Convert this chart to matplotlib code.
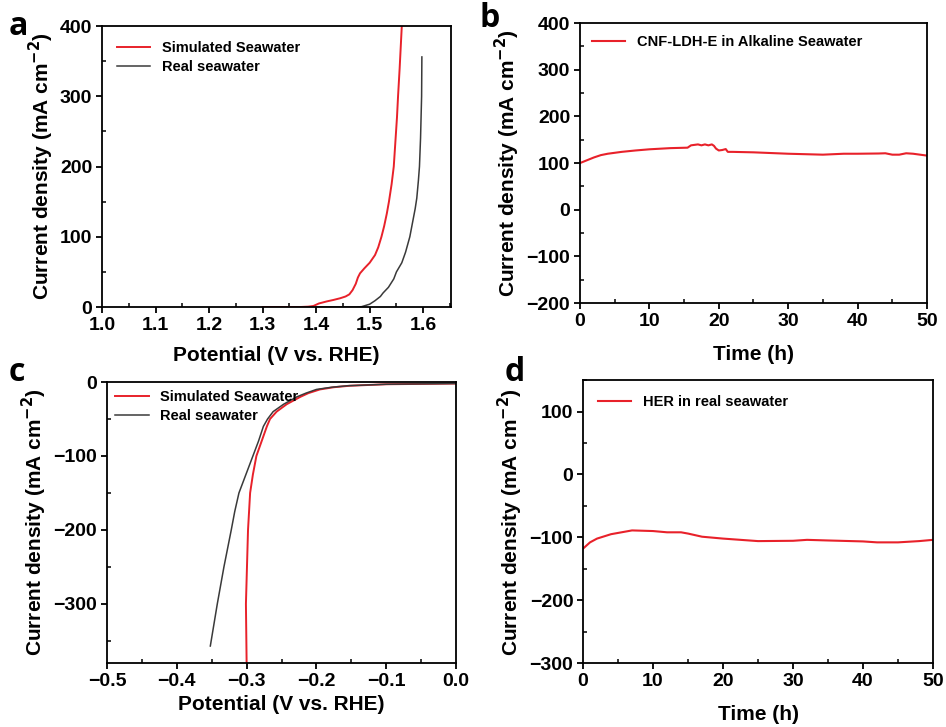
import matplotlib
matplotlib.use('Agg')
import matplotlib.pyplot as plt
from matplotlib.ticker import MultipleLocator

# Datos
# (a) OER: potencial (V vs. RHE) y densidad de corriente
a_sim_x = [1.30, 1.37, 1.385, 1.395, 1.405, 1.42, 1.432, 1.445, 1.455, 1.462, 1.468,
           1.474, 1.478, 1.482, 1.49, 1.50, 1.51, 1.516, 1.522, 1.527, 1.532, 1.536,
           1.541, 1.545, 1.548, 1.551, 1.553, 1.556, 1.560]
a_sim_y = [0, 0, 0.5, 1.5, 5, 8, 10, 12.5, 15, 18, 24,
           33, 42, 48, 55, 63, 74, 85, 100, 115, 133, 150,
           175, 200, 235, 270, 300, 340, 400]
a_real_x = [1.40, 1.475, 1.485, 1.50, 1.51, 1.52, 1.525, 1.535, 1.545, 1.55, 1.56,
            1.567, 1.575, 1.58, 1.585, 1.588, 1.591, 1.593, 1.595, 1.596, 1.597, 1.5975]
a_real_y = [0, 0, 0.5, 4, 9, 15, 20, 28, 40, 50, 63,
            78, 100, 120, 140, 155, 180, 200, 240, 270, 300, 356]

# (b) estabilidad en agua de mar alcalina
b_t = [0, 1, 2, 3, 4, 6, 8, 10, 13, 15.5, 16, 16.5, 17, 17.5, 18, 18.5, 19, 19.3,
       19.6, 20, 20.5, 21, 21.3, 22, 25, 30, 35, 38, 40, 43, 44, 45, 46, 47, 48, 50]
b_j = [100, 106, 112, 117, 120, 124, 127, 129.5, 132, 133, 138, 139, 140, 138, 140,
       138, 140, 137, 131, 127, 128, 130, 124, 124, 123, 120, 118, 120, 120, 120.5,
       121, 118, 118, 121, 120, 116]

# (c) HER: potencial (V vs. RHE) y densidad de corriente
c_sim_x = [0.0, -0.05, -0.10, -0.152, -0.175, -0.195, -0.2115, -0.223, -0.2426,
           -0.257, -0.2665, -0.271, -0.2785, -0.286, -0.291, -0.295, -0.298,
           -0.2995, -0.301, -0.300]
c_sim_y = [-2, -2.5, -3, -5, -7, -10, -15, -20, -30,
           -40, -50, -60, -80, -100, -125, -150, -200,
           -250, -300, -380]
c_real_x = [0.0, -0.05, -0.10, -0.155, -0.178, -0.200, -0.215, -0.228, -0.247,
            -0.262, -0.270, -0.276, -0.283, -0.291, -0.301, -0.311, -0.317,
            -0.322, -0.3325, -0.342, -0.352]
c_real_y = [-2, -2.5, -3, -5, -7, -10, -15, -20, -30,
            -40, -50, -60, -80, -100, -125, -150, -175,
            -200, -250, -300, -357]

# (d) HER en agua de mar real
d_t = [0, 1, 2, 4, 5, 7, 10, 12, 14, 15, 17, 20, 25, 30, 32, 35, 40, 42, 45, 48, 50]
d_j = [-118, -108, -102, -95, -93, -89, -90, -92, -92, -94, -99, -102, -106, -105.5,
       -104, -105, -106.5, -108, -108, -106, -104]

plt.rcParams['font.family'] = ['Liberation Sans', 'DejaVu Sans']
plt.rcParams['font.weight'] = 'bold'
plt.rcParams['axes.labelweight'] = 'bold'
plt.rcParams['axes.linewidth'] = 1.3

fig = plt.figure(figsize=(9.46, 7.27), dpi=100)
ax_a = fig.add_axes([0.1078, 0.5777, 0.369, 0.3865])
ax_b = fig.add_axes([0.6131, 0.5832, 0.3668, 0.3850])
ax_c = fig.add_axes([0.1131, 0.0880, 0.369, 0.3865])
ax_d = fig.add_axes([0.6163, 0.0880, 0.370, 0.3890])

rojo = '#e8212a'
negro = '#3a3a3a'
ylabel = 'Current density (mA cm$\\mathbf{^{-2}}$)'
leyenda = {'weight': 'bold', 'size': 10.5}


def estilo(ax, xmaj, xmin, ymaj, ymin):
    ax.xaxis.set_major_locator(MultipleLocator(xmaj))
    ax.xaxis.set_minor_locator(MultipleLocator(xmin))
    ax.yaxis.set_major_locator(MultipleLocator(ymaj))
    ax.yaxis.set_minor_locator(MultipleLocator(ymin))
    ax.tick_params(which='major', direction='out', length=4, width=1.3,
                   labelsize=14, pad=3)
    ax.tick_params(which='minor', direction='in', length=3, width=1.1)
    ax.set_ylabel(ylabel, fontsize=15, labelpad=3)
    for lab in ax.get_xticklabels() + ax.get_yticklabels():
        lab.set_fontweight('bold')


# (a)
ax_a.plot(a_sim_x, a_sim_y, color=rojo, lw=1.4, label='Simulated Seawater')
ax_a.plot(a_real_x, a_real_y, color=negro, lw=1.1, label='Real seawater')
ax_a.set_xlim(1.0, 1.652)
ax_a.set_ylim(0, 400)
estilo(ax_a, 0.1, 0.05, 100, 50)
ax_a.set_xlabel('Potential (V vs. RHE)', fontsize=15, labelpad=9)
ax_a.legend(loc='upper left', frameon=False, handlelength=2.3,
            borderaxespad=0.6, labelspacing=0.35, prop=leyenda)

# (b)
ax_b.plot(b_t, b_j, color=rojo, lw=1.5, label='CNF-LDH-E in Alkaline Seawater')
ax_b.set_xlim(0, 50)
ax_b.set_ylim(-200, 400)
estilo(ax_b, 10, 5, 100, 50)
ax_b.set_xlabel('Time (h)', fontsize=15, labelpad=11)
ax_b.legend(loc='upper left', frameon=False, handlelength=2.3,
            borderaxespad=0.4, prop=leyenda)

# (c)
ax_c.plot(c_sim_x, c_sim_y, color=rojo, lw=1.4, label='Simulated Seawater')
ax_c.plot(c_real_x, c_real_y, color=negro, lw=1.1, label='Real seawater')
ax_c.set_xlim(-0.5, 0.0)
ax_c.set_ylim(-380, 0)
estilo(ax_c, 0.1, 0.05, 100, 50)
ax_c.set_xlabel('Potential (V vs. RHE)', fontsize=15, labelpad=4)
ax_c.legend(loc='upper left', frameon=False, handlelength=2.3,
            borderaxespad=0.15, labelspacing=0.35, prop=leyenda)

# (d)
ax_d.plot(d_t, d_j, color=rojo, lw=1.5, label='HER in real seawater')
ax_d.set_xlim(0, 50)
ax_d.set_ylim(-300, 150)
estilo(ax_d, 10, 5, 100, 50)
ax_d.set_xlabel('Time (h)', fontsize=15, labelpad=11)
ax_d.legend(loc='upper left', frameon=False, handlelength=2.3,
            borderaxespad=0.6, prop=leyenda)

# Letras de los paneles
letras = [('a', 0.019, 0.963), ('b', 0.518, 0.975), ('c', 0.018, 0.488), ('d', 0.544, 0.488)]
for letra, x, y in letras:
    fig.text(x, y, letra, fontsize=23, fontweight='bold', family='Open Sans',
             ha='center', va='center')

plt.savefig('out.png', dpi=100, facecolor='white')
plt.close()
